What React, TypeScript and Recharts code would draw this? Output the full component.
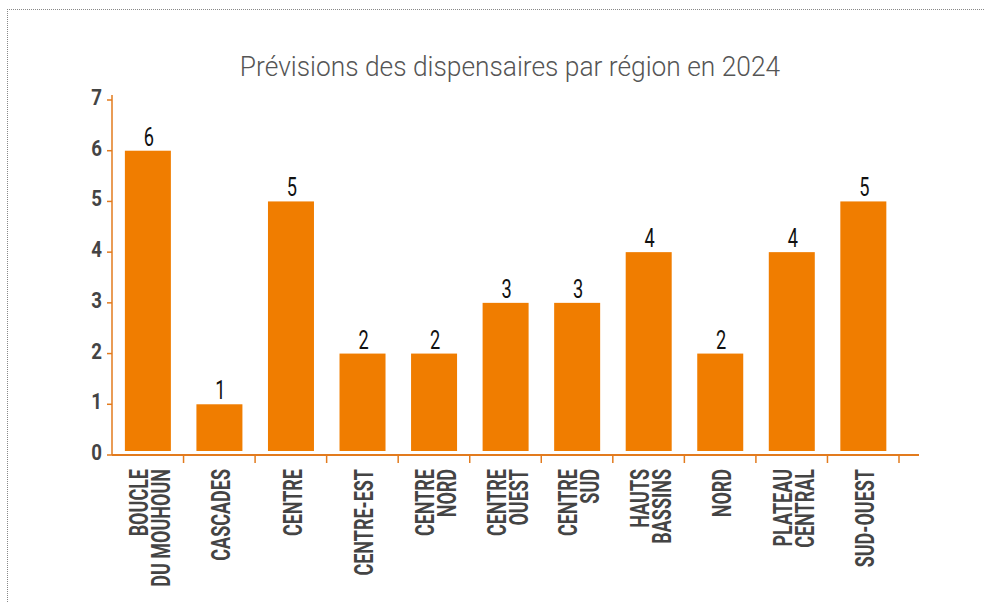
import React from "react";
import { BarChart, Bar, XAxis, YAxis, LabelList } from "recharts";

const regions = [
  "BOUCLE\nDU MOUHOUN",
  "CASCADES",
  "CENTRE",
  "CENTRE-EST",
  "CENTRE\nNORD",
  "CENTRE\nOUEST",
  "CENTRE\nSUD",
  "HAUTS\nBASSINS",
  "NORD",
  "PLATEAU\nCENTRAL",
  "SUD-OUEST",
];
const dispensaires = [6, 1, 5, 2, 2, 3, 3, 4, 2, 4, 5];
const yTicks = [0, 1, 2, 3, 4, 5, 6, 7];

const data = regions.map((r, i) => ({ region: r, value: dispensaires[i] }));

const FONT = 'Roboto, "Noto Sans", sans-serif';
const ORANGE = "#F07D00";
const AXIS = "#E27B1E";

// rotated category labels, squeezed along the text direction to mimic a condensed face
function RegionTick(props: any) {
  const { x, y, payload } = props;
  const lines = String(payload.value).split("\n");
  const lh = 22;
  const half = payload.offset || 0;
  return (
    <g>
      <line x1={x + half} y1={y} x2={x + half} y2={y + 8} stroke={AXIS} strokeWidth={1.5} />
      <text
        transform={`translate(${x + 2},${y + 14}) rotate(-90) scale(0.72,1)`}
        textAnchor="end"
        fill="#444"
        fontFamily={FONT}
        fontWeight="bold"
        fontSize={25}
      >
        {lines.map((l, i) => (
          <tspan key={i} x={0} y={(i - (lines.length - 1) / 2) * lh} dy="0.36em">
            {l}
          </tspan>
        ))}
      </text>
    </g>
  );
}

function CountTick(props: any) {
  const { x, y, payload } = props;
  return (
    <text
      transform={`translate(${x},${y + 5}) scale(0.85,1)`}
      textAnchor="end"
      fill="#444"
      fontFamily={FONT}
      fontWeight="bold"
      fontSize={22}
    >
      {payload.value}
    </text>
  );
}

function ValueLabel(props: any) {
  const { x, y, width, value } = props;
  return (
    <text
      transform={`translate(${x + width / 2 + 1},${y - 5}) scale(0.7,1)`}
      textAnchor="middle"
      fill="#111"
      fontFamily={FONT}
      fontSize={26}
    >
      {value}
    </text>
  );
}

function TrimmedBar(props: any) {
  const { x, y, width, height, fill } = props;
  return <rect x={x} y={y} width={width} height={Math.max(0, height - 4)} fill={fill} />;
}

export default function App() {
  return (
    <div style={{ position: "absolute", left: 0, top: 0, width: 984, height: 602 }}>
      <div
        style={{
          position: "absolute",
          left: 7,
          top: 9,
          width: 976,
          height: 600,
          borderTop: "1px dotted #888",
          borderLeft: "1px dotted #888",
        }}
      />
      <div
        style={{
          position: "absolute",
          left: 0,
          top: 50,
          width: 1020,
          textAlign: "center",
          fontFamily: FONT,
          fontWeight: 300,
          fontSize: 28,
          color: "#555",
          lineHeight: "34px",
          transform: "scaleX(0.94)",
          transformOrigin: "510px 0",
        }}
      >
        Prévisions des dispensaires par région en 2024
      </div>
      <div style={{ position: "absolute", left: 0, top: 0 }}>
        <BarChart
          width={984}
          height={602}
          data={data}
          margin={{ top: 95, right: 65, left: 0, bottom: 0 }}
          barCategoryGap="18%"
        >
          <XAxis
            dataKey="region"
            height={147}
            interval={0}
            padding={{ left: 0, right: 20 }}
            axisLine={{ stroke: AXIS, strokeWidth: 2 }}
            tickLine={false}
            tickSize={0}
            tickMargin={0}
            tick={<RegionTick />}
          />
          <YAxis
            width={112}
            domain={[0, 7]}
            ticks={yTicks}
            interval={0}
            padding={{ top: 5, bottom: 0 }}
            axisLine={{ stroke: AXIS, strokeWidth: 1.5 }}
            tickLine={{ stroke: AXIS, strokeWidth: 1.5 }}
            tickSize={5}
            tickMargin={5}
            tick={<CountTick />}
          />
          <Bar dataKey="value" fill={ORANGE} shape={<TrimmedBar />} isAnimationActive={false}>
            <LabelList dataKey="value" content={<ValueLabel />} />
          </Bar>
        </BarChart>
      </div>
    </div>
  );
}
